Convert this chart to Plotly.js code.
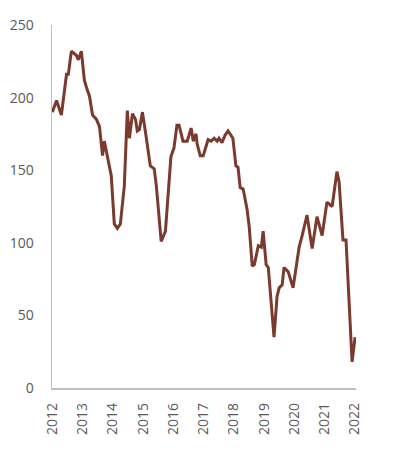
<!DOCTYPE html>
<html>
<head>
<meta charset="utf-8">
<script src="https://cdn.plot.ly/plotly-3.0.1.min.js"></script>
<style>html,body{margin:0;padding:0;background:#fff;}#chart{width:396px;height:462px;}</style>
</head>
<body>
<div id="chart"></div>
<script>
// Decimal-year positions of the traced points
const years = [
  2012.00, 2012.14, 2012.30, 2012.47, 2012.53, 2012.63, 2012.80, 2012.86, 2012.96,
  2013.06, 2013.13, 2013.23, 2013.33, 2013.46, 2013.56, 2013.66, 2013.72, 2013.82, 2013.95,
  2014.05, 2014.15, 2014.25, 2014.38, 2014.48, 2014.55, 2014.65, 2014.75, 2014.81, 2014.88, 2014.98,
  2015.04, 2015.11, 2015.24, 2015.37, 2015.44, 2015.60, 2015.74, 2015.82, 2015.92, 2015.98,
  2016.02, 2016.12, 2016.19, 2016.32, 2016.46, 2016.59, 2016.66, 2016.75, 2016.79, 2016.89, 2016.99,
  2017.15, 2017.25, 2017.35, 2017.45, 2017.51, 2017.61, 2017.71, 2017.81, 2017.97,
  2018.07, 2018.14, 2018.21, 2018.31, 2018.44, 2018.51, 2018.61, 2018.68, 2018.81, 2018.91, 2018.97,
  2019.07, 2019.14, 2019.33, 2019.43, 2019.50, 2019.60, 2019.66, 2019.80, 2019.96,
  2020.16, 2020.26, 2020.42, 2020.59, 2020.75, 2020.92,
  2021.08, 2021.25, 2021.41, 2021.48, 2021.61, 2021.71, 2021.91, 2022.01
];
const values = [
  190, 198, 188, 216, 216, 232, 229, 226, 232,
  212, 207, 201, 188, 185, 180, 160, 170, 159, 146,
  113, 110, 113, 139, 191, 172, 189, 185, 177, 178, 190,
  180, 172, 153, 151, 139, 101, 108, 130, 159, 163,
  165, 181, 181, 170, 170, 179, 170, 175, 168, 160, 160,
  171, 170, 172, 170, 172, 169, 174, 177, 172,
  153, 152, 138, 137, 123, 111, 84, 85, 98, 97, 108,
  85, 83, 35, 63, 69, 71, 83, 80, 69,
  97, 105, 119, 96, 118, 105,
  128, 125, 149, 142, 102, 102, 18, 35
];
const yearTicks = [2012, 2013, 2014, 2015, 2016, 2017, 2018, 2019, 2020, 2021, 2022];
const yearLabels = ['2012', '2013', '2014', '2015', '2016', '2017', '2018', '2019', '2020', '2021', '2022'];
const valueTicks = [0, 50, 100, 150, 200, 250];

const trace = {
  x: years, y: values, type: 'scatter', mode: 'lines',
  line: {color: '#7A3A2E', width: 3, shape: 'linear'},
  cliponaxis: false, hoverinfo: 'skip'
};
const tickFont = {family: '"Open Sans", sans-serif', size: 14, color: '#595959'};
const layout = {
  width: 396, height: 462,
  margin: {l: 52, r: 40, t: 25, b: 74, pad: 0},
  paper_bgcolor: '#fff', plot_bgcolor: '#fff',
  showlegend: false,
  xaxis: {
    range: [2011.99, 2022.04], tickmode: 'array', tickvals: yearTicks, ticktext: yearLabels,
    tickangle: -90, tickfont: tickFont, showgrid: false, zeroline: false,
    showline: true, linecolor: '#BFBFBF', linewidth: 1.5, ticks: '', ticklabelstandoff: 8
  },
  yaxis: {
    range: [0, 250], tickmode: 'array', tickvals: valueTicks, tickfont: tickFont,
    showgrid: false, zeroline: false, showline: true, linecolor: '#BFBFBF', linewidth: 1.5,
    ticks: '', ticklabelstandoff: 14
  }
};
Plotly.newPlot('chart', [trace], layout, {displayModeBar: false, staticPlot: true});
</script>
</body>
</html>
